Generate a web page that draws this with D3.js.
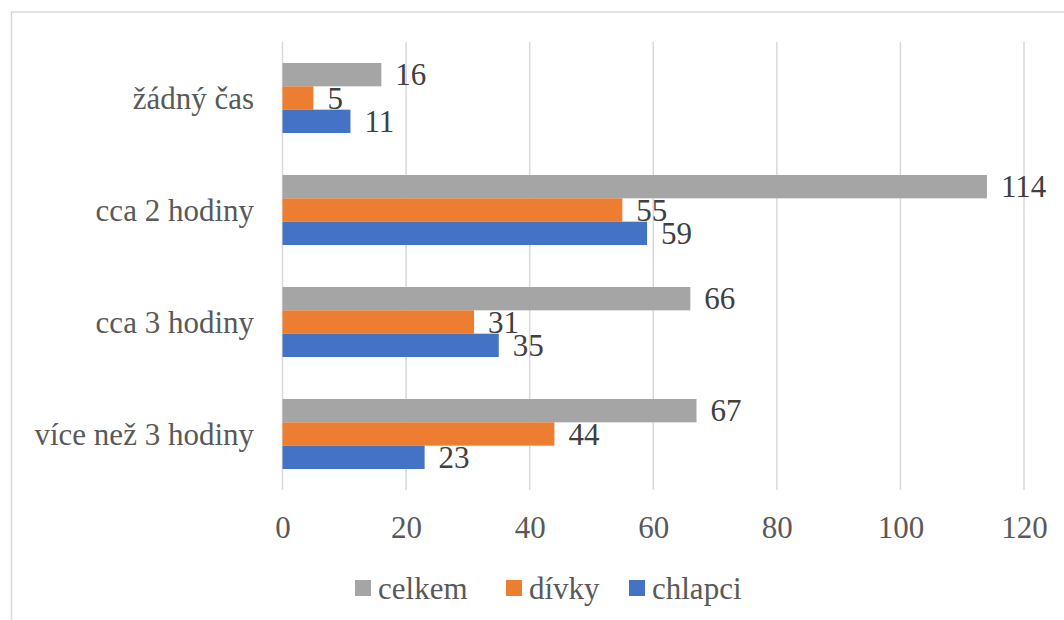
<!DOCTYPE html>
<html><head><meta charset="utf-8">
<script src="https://cdn.jsdelivr.net/npm/d3@7"></script>
<style>body{margin:0;background:#fff}svg{display:block}
svg text{font-family:"Liberation Serif","Times New Roman",Tinos,"Nimbus Roman","Nimbus Roman No9 L",FreeSerif,"Noto Serif","DejaVu Serif",Georgia,serif !important;}
</style>
</head><body>
<svg id="c" width="1064" height="620"></svg>
<script>
const categories = ["žádný čas", "cca 2 hodiny", "cca 3 hodiny", "více než 3 hodiny"];
const seriesNames = ["celkem", "dívky", "chlapci"];
const celkem = [16, 114, 66, 67];
const divky = [5, 55, 31, 44];
const chlapci = [11, 59, 35, 23];
const tickValues = [0, 20, 40, 60, 80, 100, 120];
const colors = ["#A5A5A5", "#ED7D31", "#4472C4"];

const values = [celkem, divky, chlapci];
const svg = d3.select("#c");
const textColor = "#595959";

// chart border
svg.append("rect").attr("x", 11.5).attr("y", 12).attr("width", 1100).attr("height", 700)
  .attr("fill", "#fff").attr("stroke", "#d9d9d9").attr("stroke-width", 1.5);

const x = d3.scaleLinear().domain([0, 120]).range([282.5, 1024]);
const y = d3.scaleBand().domain(categories).range([42, 490]).paddingInner(0.375).paddingOuter(0.1875);
const ys = d3.scaleBand().domain(seriesNames).range([0, y.bandwidth()]);

// gridlines
svg.append("g").selectAll("line").data(tickValues).join("line")
  .attr("x1", d => x(d)).attr("x2", d => x(d)).attr("y1", 42).attr("y2", 490)
  .attr("stroke", "#d9d9d9").attr("stroke-width", 1.5);

// x axis labels
const xAxis = d3.axisBottom(x).tickValues(tickValues).tickSize(0).tickPadding(0);
const gx = svg.append("g").attr("transform", "translate(0,538)").call(xAxis);
gx.select(".domain").remove();
gx.selectAll("text").attr("dy", 0).attr("y", 0).attr("font-size", 31).attr("fill", textColor);

// category labels
const yAxis = d3.axisLeft(y).tickSize(0).tickPadding(0);
const gy = svg.append("g").attr("transform", "translate(254,0)").call(yAxis);
gy.select(".domain").remove();
gy.selectAll("text").attr("dy", "0.34em").attr("font-size", 31).attr("fill", textColor);

// bars
seriesNames.forEach((s, si) => {
  const g = svg.append("g");
  g.selectAll("rect").data(categories).join("rect")
    .attr("x", x(0))
    .attr("y", (c) => y(c) + ys(s))
    .attr("width", (c, i) => x(values[si][i]) - x(0))
    .attr("height", ys.bandwidth())
    .attr("fill", colors[si]);
  g.selectAll("text").data(categories).join("text")
    .attr("x", (c, i) => x(values[si][i]) + 14)
    .attr("y", (c) => y(c) + ys(s) + ys.bandwidth() / 2)
    .attr("dy", "0.34em")
    .attr("font-size", 31).attr("fill", "#404040")
    .text((c, i) => values[si][i]);
});

// legend
const legendX = [355, 506, 629];
const lg = svg.append("g");
seriesNames.forEach((s, si) => {
  lg.append("rect").attr("x", legendX[si]).attr("y", 580).attr("width", 16).attr("height", 16).attr("fill", colors[si]);
  lg.append("text").attr("x", legendX[si] + 23).attr("y", 588).attr("dy", "0.34em")
    .attr("font-size", 31).attr("fill", textColor).text(s);
});
</script>
</body></html>
